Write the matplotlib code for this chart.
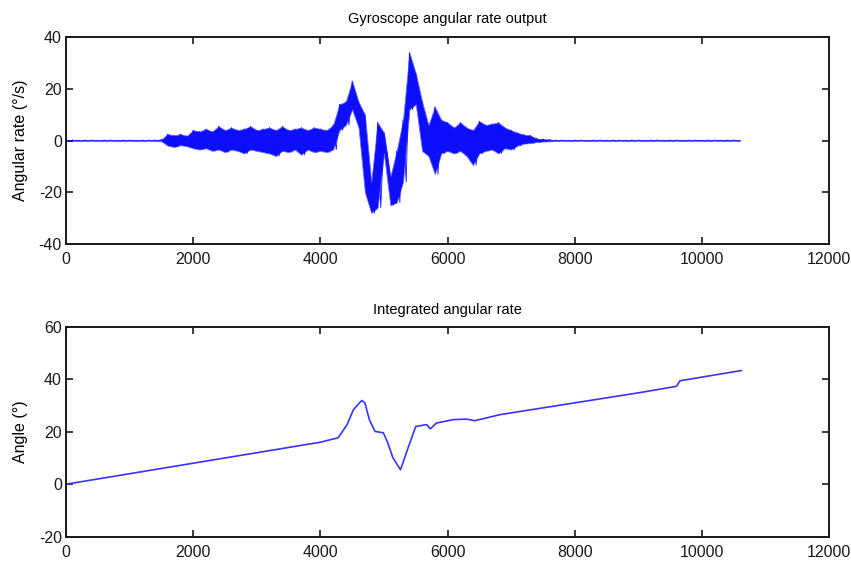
import numpy as np
import matplotlib
matplotlib.use("Agg")
import matplotlib.pyplot as plt

plt.rcParams['font.family'] = ['Liberation Sans', 'DejaVu Sans']
plt.rcParams['axes.unicode_minus'] = False

# gyro output, read as upper / lower envelope every 100 samples (0 .. 10600)
step = 100
rate_hi = [0.2, 0.2, 0.1, 0.2, 0.2, 0.1, 0.2, 0.2, 0.1, 0.2, 0.2, 0.1, 0.2, 0.2, 0.2, 0.4,
           2.5, 2.0, 2.5, 1.8,
           4.0, 3.5, 4.5, 3.5, 5.5, 4.0, 5.0, 4.0, 4.5, 5.5, 4.0, 4.5, 5.0, 4.0, 5.5, 4.0,
           4.5, 5.0, 4.0, 5.0, 4.5, 4.0, 6.0,
           14.0, 15.0, 23.0, 15.0, 10.0, -16.0, 7.0, 3.0, -14.0, -4.0, 8.0, 34.0, 26.0,
           15.0, 6.0, 13.0, 8.0, 7.0, 5.0, 7.0, 5.0, 4.0, 7.5, 6.0, 6.5, 7.0, 5.0, 4.0,
           3.0, 2.3, 2.0, 0.8, 0.6, 0.4,
           0.2, 0.2, 0.1, 0.2, 0.2, 0.1, 0.2, 0.2, 0.1, 0.2, 0.2, 0.1, 0.2, 0.2, 0.1,
           0.2, 0.2, 0.1, 0.2, 0.2, 0.1, 0.2, 0.2, 0.1, 0.2, 0.2, 0.1, 0.2, 0.2, 0.1]
rate_lo = [-0.2, -0.1, -0.2, -0.2, -0.1, -0.2, -0.2, -0.1, -0.2, -0.2, -0.1, -0.2, -0.2, -0.1, -0.2, -0.3,
           -2.0, -2.5, -1.8, -2.2,
           -3.0, -3.5, -3.0, -4.0, -3.5, -4.5, -3.5, -4.0, -5.0, -3.5, -4.0, -4.5, -5.0, -6.0, -4.0, -4.5,
           -3.5, -5.5, -3.5, -4.5, -4.0, -4.5, -3.5,
           4.0, 6.0, 12.0, 5.0, -20.0, -28.0, -26.0, -5.0, -25.0, -24.0, -16.0, 12.0, 14.0,
           -4.0, -6.0, -13.0, -5.0, -4.0, -5.0, -4.0, -6.0, -9.5, -5.0, -4.0, -3.5, -5.0, -3.0, -3.5,
           -2.0, -1.2, -1.0, -0.6, -0.4, -0.3,
           -0.2, -0.1, -0.2, -0.2, -0.1, -0.2, -0.2, -0.1, -0.2, -0.2, -0.1, -0.2, -0.2, -0.1, -0.2,
           -0.2, -0.1, -0.2, -0.2, -0.1, -0.2, -0.2, -0.1, -0.2, -0.2, -0.1, -0.2, -0.2, -0.1, -0.2]

# integrated angle, read at key points
angle_x = [0, 1000, 2000, 3000, 4000, 4280, 4420, 4520, 4650, 4700, 4770, 4860, 4990,
           5060, 5140, 5260, 5380, 5500, 5670, 5730, 5825, 6085, 6300, 6430, 6825,
           8000, 9000, 9600, 9655, 10000, 10620]
angle_y = [0, 4, 8, 12, 16, 17.7, 22.7, 28.4, 31.9, 31, 24.6, 20.1, 19.6,
           15.8, 10.1, 5.5, 13.9, 22, 22.7, 21.1, 23.3, 24.6, 24.8, 24.2, 26.5,
           31, 34.8, 37.3, 39.4, 40.8, 43.3]

xticks = [0, 2000, 4000, 6000, 8000, 10000, 12000]

hi = np.array(rate_hi)
lo = np.array(rate_lo)
xs = np.arange(len(hi)) * step

# zig-zag through peaks and troughs for the noisy trace
zx = np.empty(2 * len(xs))
zy = np.empty(2 * len(xs))
zx[0::2] = xs
zx[1::2] = xs + step / 2
zy[0::2] = hi
zy[1::2] = lo
zx = zx[:-1]
zy = zy[:-1]

fig = plt.figure(figsize=(8.51, 5.61), dpi=100)
ax1 = fig.add_axes([0.0776, 0.565, 0.8966, 0.369])
ax2 = fig.add_axes([0.0776, 0.0433, 0.8966, 0.3743])

ax1.fill_between(xs, lo, hi, color='#0000ff', alpha=0.95, linewidth=0.6,
                 edgecolor='#6a6aff')
ax1.plot(zx, zy, color='#1010ff', linewidth=0.6)
ax1.set_ylim(-40, 40)
ax1.set_yticks([-40, -20, 0, 20, 40])
ax1.set_ylabel('Angular rate (°/s)', fontsize=11.5, labelpad=8)
ax1.set_title('Gyroscope angular rate output', fontsize=10.5, pad=10)

ax2.plot(angle_x, angle_y, color='#3535ff', linewidth=1.2)
ax2.set_ylim(-20, 60)
ax2.set_yticks([-20, 0, 20, 40, 60])
ax2.set_ylabel('Angle (°)', fontsize=11.5, labelpad=8)
ax2.set_title('Integrated angular rate', fontsize=10.5, pad=9)

for ax in (ax1, ax2):
    ax.set_xlim(0, 12000)
    ax.set_xticks(xticks)
    ax.tick_params(direction='in', length=5, width=1.2, top=True, right=True,
                   labelsize=11.5, pad=3, colors='#1a1a1a')
    ax.tick_params(axis='x', pad=6)
    for s in ax.spines.values():
        s.set_linewidth(1.4)
        s.set_color('#1a1a1a')

fig.savefig('out.png', dpi=100)
